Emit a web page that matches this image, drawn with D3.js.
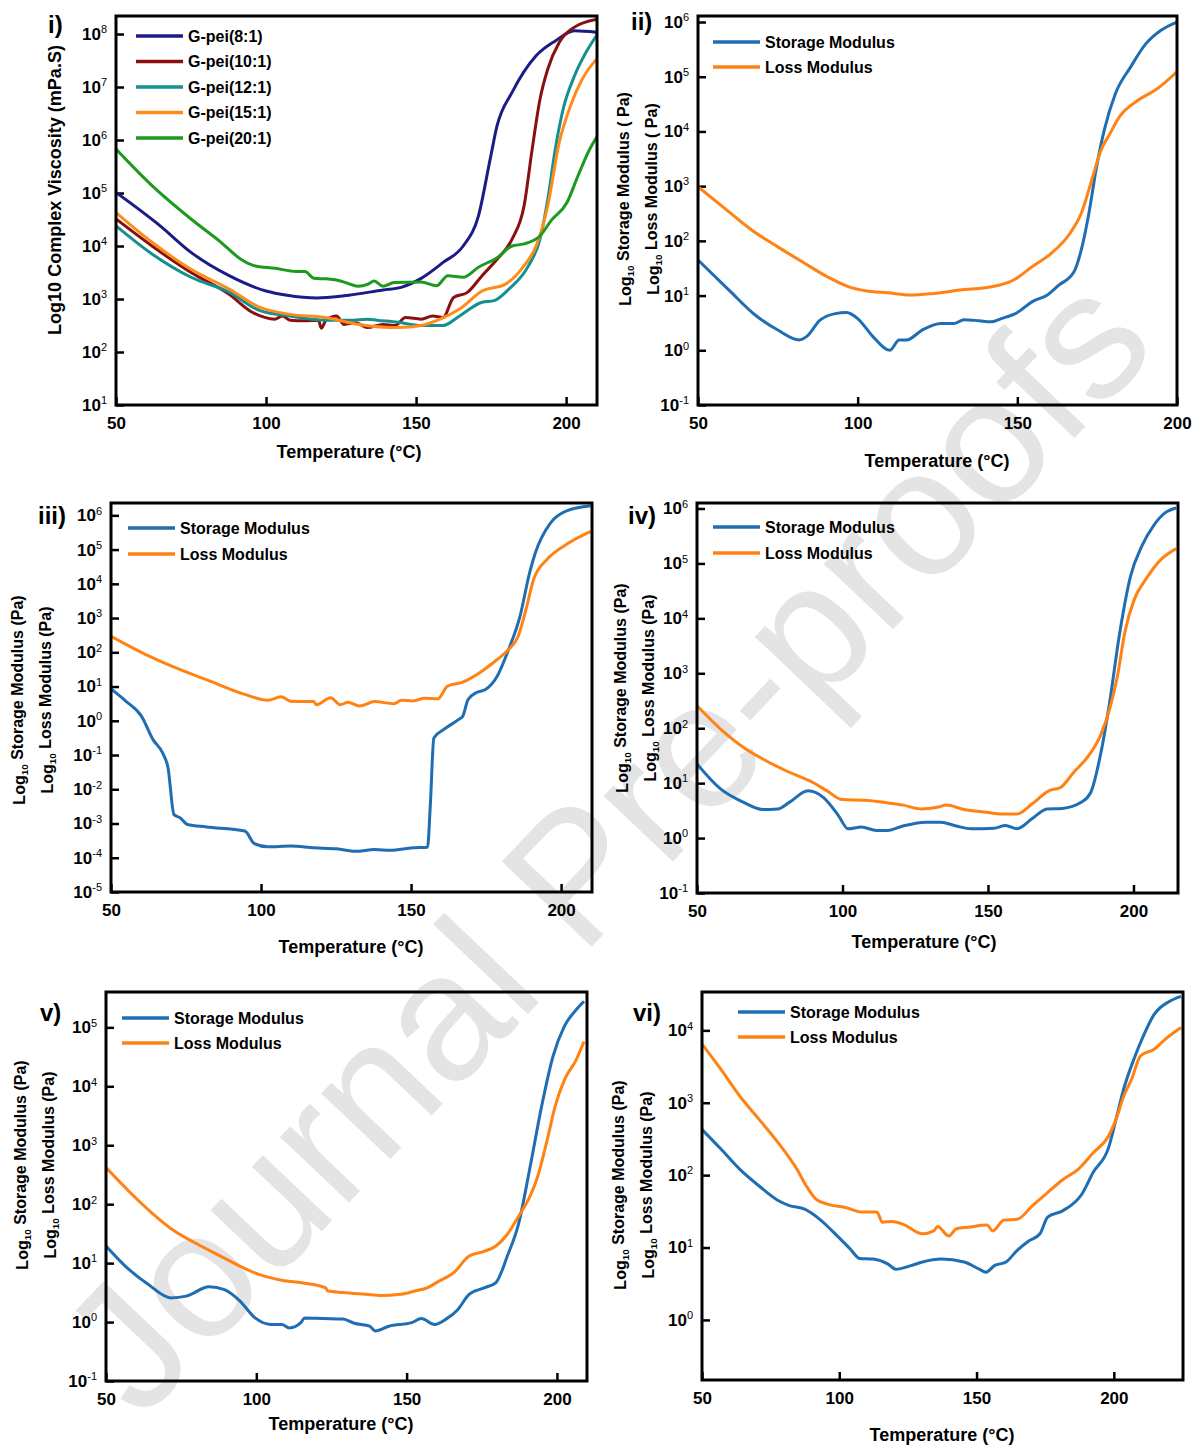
<!DOCTYPE html>
<html>
<head>
<meta charset="utf-8">
<script src="https://cdn.jsdelivr.net/npm/d3@7"></script>
<style>
  body { margin: 0; background: #fff; }
  svg { display: block; font-family: "Liberation Sans", Arial, sans-serif; }
</style>
</head>
<body>
<svg id="fig" width="1195" height="1445"></svg>
<script>
// values are [temperature °C, log10(value)]

// panel i - complex viscosity (mPa.S)
const visc8to1 = [[50,5.01],[64.7,4.38],[75,3.88],[87.7,3.44],[100,3.15],[107,3.07],[117,3.02],[126,3.06],[139,3.17],[145,3.22],[151.7,3.39],[159,3.69],[165.7,4.0],[170.8,4.57],[174.7,5.64],[177,6.27],[182,6.9],[190,7.59],[196.4,7.87],[202.8,8.06],[210.5,8.03]];
const visc10to1 = [[50,4.51],[62,4.0],[75,3.5],[87.7,3.09],[95.4,2.75],[103,2.62],[105.5,2.68],[108,2.6],[113,2.59],[117.5,2.6],[118.4,2.45],[120,2.6],[123.5,2.68],[126,2.52],[130,2.55],[133.8,2.46],[139,2.52],[143,2.5],[146.5,2.65],[151.7,2.62],[155.5,2.68],[159,2.65],[162.5,3.03],[167,3.12],[172,3.44],[177,3.75],[182,4.13],[186,4.76],[188.7,5.83],[191.3,6.77],[193.9,7.34],[197.7,7.84],[202.8,8.13],[210.5,8.28]];
const visc12to1 = [[50,4.38],[62,3.85],[75,3.41],[87.7,3.13],[98,2.78],[108,2.68],[119.7,2.6],[128,2.6],[133.8,2.62],[137,2.6],[144,2.56],[151.7,2.5],[159,2.5],[164.5,2.68],[172,2.94],[176,2.97],[181,3.19],[187.5,3.63],[191.3,4.13],[193.9,4.88],[196.4,5.83],[199,6.58],[202.8,7.21],[206.6,7.65],[210.5,8.0]];
const visc15to1 = [[50,4.63],[62,4.07],[75,3.56],[87.7,3.19],[98,2.84],[108,2.71],[119.7,2.65],[131,2.52],[144,2.46],[151.7,2.5],[158,2.62],[164.5,2.81],[172,3.15],[179.8,3.28],[186,3.63],[190,4.0],[193.9,4.76],[197.7,5.95],[201.5,6.65],[205.4,7.15],[210.5,7.55]];
const visc20to1 = [[50,5.83],[62,5.14],[75,4.51],[85,4.07],[91.6,3.75],[96,3.63],[103,3.58],[110,3.52],[113,3.52],[116,3.39],[120,3.38],[123.5,3.36],[127,3.3],[130.6,3.24],[134,3.28],[136,3.34],[139,3.24],[142.7,3.31],[151.7,3.32],[156.8,3.25],[160.6,3.44],[165.7,3.41],[170.8,3.6],[177,3.78],[182,4.0],[186,4.04],[191.3,4.19],[195,4.48],[200.3,4.82],[204,5.33],[207.9,5.83],[210.5,6.08]];
const viscLabels = ["G-pei(8:1)", "G-pei(10:1)", "G-pei(12:1)", "G-pei(15:1)", "G-pei(20:1)"];

// panel ii
const storageII = [[50,1.65],[59.7,1.1],[68,0.64],[75,0.37],[81.7,0.19],[84,0.25],[88.2,0.55],[93,0.67],[96.5,0.69],[100,0.58],[104.8,0.25],[110.1,0.0],[113,0.19],[115.4,0.19],[120.2,0.37],[126,0.49],[130.3,0.49],[133.3,0.56],[138,0.54],[141.6,0.52],[145,0.58],[150,0.69],[154.7,0.89],[159.4,1.01],[163,1.19],[167.7,1.43],[170,1.83],[172.4,2.5],[174.8,3.35],[177.2,4.02],[180.7,4.69],[185.5,5.18],[190.2,5.6],[195,5.85],[200,6.0]];
const lossII = [[50,2.99],[59.7,2.53],[66.8,2.2],[75,1.89],[83.4,1.59],[90.6,1.34],[97.7,1.15],[102.4,1.09],[109.5,1.05],[116.7,1.01],[123.8,1.04],[132,1.1],[142.8,1.17],[148.7,1.28],[154.7,1.53],[160.6,1.77],[166.5,2.14],[170,2.5],[173.6,3.17],[176,3.63],[179,3.96],[182,4.27],[187.8,4.57],[193.8,4.78],[200,5.09]];

// panel iii
const storageIII = [[50,0.93],[55,0.57],[60.2,0.13],[64,-0.55],[67.2,-0.94],[69,-1.37],[71,-2.74],[73,-2.83],[75.5,-3.03],[81.8,-3.1],[94.6,-3.22],[97.8,-3.59],[102.2,-3.68],[109.9,-3.66],[117.5,-3.71],[125.2,-3.74],[131.5,-3.81],[137.9,-3.76],[143,-3.78],[150.6,-3.71],[155.5,-3.69],[156.4,-2.49],[157.6,-0.5],[160.8,-0.26],[165.9,0.04],[167.2,0.13],[169,0.62],[171.7,0.82],[174.8,0.91],[178.7,1.3],[182.5,2.08],[186.3,3.05],[189.5,4.32],[191.4,4.9],[196.5,5.78],[201.6,6.12],[209.9,6.28]];
const lossIII = [[50,2.47],[62.7,1.89],[70.4,1.59],[81.8,1.2],[94.6,0.77],[102.2,0.6],[106.7,0.7],[109.9,0.57],[117.5,0.56],[118.5,0.47],[123.2,0.67],[126.4,0.47],[129,0.54],[132.8,0.43],[137.9,0.56],[144.3,0.5],[146.8,0.6],[150.6,0.58],[154.5,0.66],[158.9,0.64],[162.1,1.01],[167.2,1.13],[173.6,1.45],[178.7,1.79],[182.5,2.08],[185.7,2.47],[188.3,3.25],[190.8,4.12],[195.3,4.71],[201.6,5.14],[209.9,5.53]];

// panel iv
const storageIV = [[50,1.35],[58.2,0.89],[66,0.65],[72.6,0.52],[77.8,0.53],[81.7,0.65],[88.2,0.86],[93.4,0.74],[98.6,0.41],[101.9,0.17],[106.5,0.2],[111.7,0.14],[115.6,0.14],[120.8,0.22],[128.6,0.29],[133.8,0.29],[139,0.22],[144.3,0.17],[152.1,0.18],[156,0.23],[160,0.17],[165.1,0.35],[170.3,0.53],[175.6,0.54],[182,0.65],[185.3,0.83],[188.6,1.5],[191.8,2.47],[195.1,3.68],[199,4.77],[202.9,5.32],[206.8,5.68],[210.8,5.92],[214.7,6.01]];
const lossIV = [[50,2.41],[58.2,1.98],[66,1.65],[72.6,1.44],[80.4,1.23],[89.5,1.02],[94.7,0.86],[99.9,0.7],[107.8,0.69],[115.6,0.64],[120.8,0.6],[127.3,0.53],[132.5,0.56],[135.8,0.6],[141.7,0.52],[149.5,0.47],[154.7,0.44],[160,0.44],[165.1,0.62],[170.9,0.86],[174.9,0.92],[179.5,1.2],[184.6,1.5],[188.6,1.86],[191.8,2.35],[194.5,2.95],[197,3.74],[200.3,4.35],[204.2,4.71],[209.4,5.07],[214.7,5.27]];

// panel v
const storageV = [[50,1.29],[56.4,0.95],[64,0.64],[71.6,0.41],[76.7,0.44],[84.3,0.6],[89.4,0.55],[94.5,0.36],[99.6,0.07],[104.7,-0.04],[108.5,-0.04],[111,-0.1],[114.8,-0.01],[116.1,0.07],[122.5,0.06],[128.8,0.05],[132.6,-0.02],[137.7,-0.07],[139.6,-0.15],[144.1,-0.07],[151.7,-0.01],[154.9,0.06],[159.3,-0.04],[163.1,0.05],[167,0.21],[170.8,0.47],[175.8,0.58],[179.7,0.67],[183.5,1.12],[187.3,1.68],[191.1,2.64],[194.9,3.66],[198.7,4.51],[202.5,5.02],[206.4,5.3],[209,5.44]];
const lossV = [[50,2.62],[57.6,2.22],[65.3,1.85],[72.9,1.54],[80.5,1.32],[88.1,1.12],[94.5,0.95],[100.8,0.81],[108.5,0.71],[116.1,0.66],[123.1,0.58],[123.7,0.53],[128.8,0.5],[136.4,0.47],[141.5,0.45],[147.9,0.47],[153,0.53],[156.8,0.58],[160.6,0.69],[165.7,0.84],[170.8,1.12],[175.8,1.2],[179.7,1.29],[183.5,1.49],[187.3,1.8],[191.1,2.14],[193.6,2.47],[196.8,3.1],[199.4,3.66],[202.5,4.11],[206.4,4.45],[209,4.76]];

// panel vi
const storageVI = [[50,2.63],[56.9,2.36],[63.8,2.08],[70.8,1.85],[77.7,1.65],[81.8,1.58],[87.4,1.53],[92.9,1.39],[99.8,1.14],[104,0.98],[107.4,0.85],[112.3,0.84],[117.8,0.77],[120.6,0.7],[126.1,0.75],[130.3,0.8],[137.2,0.84],[145.5,0.8],[151,0.7],[153.5,0.66],[156.5,0.75],[160.7,0.8],[164.8,0.96],[169,1.09],[173.1,1.19],[175.9,1.42],[181.5,1.51],[188.4,1.74],[192.5,2.04],[198.1,2.38],[200.8,2.77],[203.6,3.19],[207.8,3.65],[210.5,3.9],[214.7,4.22],[220.2,4.4],[224.5,4.47]];
const lossVI = [[50,3.81],[56.9,3.46],[63.8,3.09],[70.8,2.77],[77.7,2.45],[84.6,2.08],[88,1.85],[91.5,1.67],[95.7,1.6],[102.6,1.55],[108.1,1.49],[113.7,1.49],[115.7,1.35],[119.2,1.36],[123.3,1.32],[130.3,1.19],[134.4,1.23],[135.8,1.29],[139.9,1.16],[142.7,1.26],[146.9,1.28],[153.8,1.31],[155.9,1.23],[160,1.38],[164.8,1.39],[170.4,1.58],[175.9,1.76],[181.5,1.94],[187,2.08],[192.5,2.31],[198.1,2.54],[200.8,2.77],[203.6,3.09],[206.4,3.32],[209.8,3.65],[214.7,3.74],[218.8,3.88],[224.5,4.04]];

const modulusLabels = ["Storage Modulus", "Loss Modulus"];
const xTickValues = [50, 100, 150, 200];

const viscColors = ["#1c1c86", "#8a1010", "#15908f", "#ff8c1a", "#1b9a1e"];
const storageColor = "#1f6db2";
const lossColor = "#ff8213";

const svg = d3.select("#fig");

// watermark behind everything
svg.append("text")
  .attr("transform", "translate(605,842) rotate(-46.5)")
  .attr("text-anchor", "middle")
  .attr("dominant-baseline", "central")
  .attr("font-size", 180)
  .attr("fill", "#e4e4e4")
  .text("Journal Pre-proofs");

let clipId = 0;

function drawPanel(p) {
  const x = d3.scaleLinear(p.xDomain, [p.left, p.right]);
  const y = d3.scaleLog(p.yDomain, [p.bottom, p.top]);
  const g = svg.append("g");

  const xAxis = d3.axisBottom(x).tickValues(xTickValues).tickSizeInner(-8).tickSizeOuter(0).tickPadding(12);
  const yAxis = d3.axisLeft(y).tickValues(p.yTicks).tickSizeInner(-8).tickSizeOuter(0).tickPadding(9);

  const gx = g.append("g").attr("transform", `translate(0,${p.bottom})`).call(xAxis);
  const gy = g.append("g").attr("transform", `translate(${p.left},0)`).call(yAxis);

  [gx, gy].forEach((ax) => {
    ax.select(".domain").remove();
    ax.selectAll(".tick line").attr("stroke", "#000").attr("stroke-width", 2.5);
    ax.selectAll(".tick text")
      .attr("fill", "#000")
      .attr("font-size", 17)
      .attr("font-weight", "bold");
  });

  // 10^n labels
  gy.selectAll(".tick text").each(function (d) {
    const t = d3.select(this);
    const e = Math.round(Math.log10(d));
    t.text(null);
    t.append("tspan").text("10");
    t.append("tspan")
      .attr("dy", "-0.6em")
      .attr("font-size", 11)
      .attr("font-weight", "normal")
      .text(e);
  });

  const id = "clip" + clipId++;
  g.append("clipPath").attr("id", id)
    .append("rect")
    .attr("x", p.left).attr("y", p.top)
    .attr("width", p.right - p.left).attr("height", p.bottom - p.top);

  const line = d3.line()
    .x((d) => x(d[0]))
    .y((d) => y(Math.pow(10, d[1])))
    .curve(d3.curveMonotoneX);

  p.series.forEach((s) => {
    g.append("path")
      .datum(s.data)
      .attr("clip-path", `url(#${id})`)
      .attr("fill", "none")
      .attr("stroke", s.color)
      .attr("stroke-width", 3)
      .attr("stroke-linejoin", "round")
      .attr("d", line);
  });

  // frame
  g.append("rect")
    .attr("x", p.left).attr("y", p.top)
    .attr("width", p.right - p.left).attr("height", p.bottom - p.top)
    .attr("fill", "none")
    .attr("stroke", "#000")
    .attr("stroke-width", 3);

  // legend
  p.series.forEach((s, i) => {
    const ly = p.legend[1] + i * p.legendStep;
    g.append("line")
      .attr("x1", p.legend[0]).attr("x2", p.legend[0] + 47)
      .attr("y1", ly).attr("y2", ly)
      .attr("stroke", s.color).attr("stroke-width", 3.5);
    g.append("text")
      .attr("x", p.legend[0] + 52).attr("y", ly)
      .attr("dy", "0.35em")
      .attr("font-size", 16).attr("font-weight", "bold")
      .text(s.label);
  });

  // panel tag
  g.append("text")
    .attr("x", p.tag[0]).attr("y", p.tag[1])
    .attr("dy", "0.35em")
    .attr("font-size", 24).attr("font-weight", "bold")
    .text(p.name);

  // x title
  g.append("text")
    .attr("x", p.xTitle[0]).attr("y", p.xTitle[1])
    .attr("dy", "0.35em")
    .attr("text-anchor", "middle")
    .attr("font-size", 18).attr("font-weight", "bold")
    .text("Temperature (°C)");

  // y titles
  p.yTitles.forEach((t) => {
    const yt = g.append("text")
      .attr("transform", `translate(${t.x},${p.yTitleCenter}) rotate(-90)`)
      .attr("text-anchor", "middle")
      .attr("dy", "0.35em")
      .attr("font-size", t.size).attr("font-weight", "bold");
    if (t.sub) {
      yt.append("tspan").text("Log");
      yt.append("tspan").attr("font-size", t.size * 0.62).attr("dy", "0.3em").text("10");
      yt.append("tspan").attr("dy", "-0.3em").text(" " + t.text);
    } else {
      yt.text(t.text);
    }
  });
}

function modulusSeries(storage, loss) {
  return [
    { label: modulusLabels[0], color: storageColor, data: storage },
    { label: modulusLabels[1], color: lossColor, data: loss },
  ];
}

function modTitles(x1, x2, unit) {
  return [
    { x: x1, size: 16, sub: true, text: "Storage Modulus " + unit },
    { x: x2, size: 16, sub: true, text: "Loss Modulus " + unit },
  ];
}

const decades = (a, b) => d3.range(a, b + 1).map((e) => Math.pow(10, e));

drawPanel({
  name: "i)", tag: [48, 25],
  left: 116, right: 597, top: 16, bottom: 405,
  xDomain: [50, 210.3], yDomain: [10, Math.pow(10, 8.34)], yTicks: decades(1, 8),
  series: [visc8to1, visc10to1, visc12to1, visc15to1, visc20to1].map((d, i) => ({ label: viscLabels[i], color: viscColors[i], data: d })),
  legend: [136, 36], legendStep: 25.5,
  xTitle: [349, 452],
  yTitles: [{ x: 55, size: 18, sub: false, text: "Log10 Complex Viscosity (mPa.S)" }],
  yTitleCenter: 190,
});

drawPanel({
  name: "ii)", tag: [631, 22],
  left: 698, right: 1177, top: 16, bottom: 405,
  xDomain: [50, 200], yDomain: [0.1, Math.pow(10, 6.11)], yTicks: decades(-1, 6),
  series: modulusSeries(storageII, lossII),
  legend: [713, 42], legendStep: 25,
  xTitle: [937, 461],
  yTitles: modTitles(625, 653, "( Pa)"),
  yTitleCenter: 199,
});

drawPanel({
  name: "iii)", tag: [38, 516],
  left: 111, right: 592, top: 503, bottom: 892,
  xDomain: [50, 210.3], yDomain: [1e-5, Math.pow(10, 6.36)], yTicks: decades(-5, 6),
  series: modulusSeries(storageIII, lossIII),
  legend: [128, 528], legendStep: 26,
  xTitle: [351, 947],
  yTitles: modTitles(19, 47, "(Pa)"),
  yTitleCenter: 700,
});

drawPanel({
  name: "iv)", tag: [628, 516],
  left: 697, right: 1178, top: 503, bottom: 893,
  xDomain: [50, 215.3], yDomain: [0.1, Math.pow(10, 6.1)], yTicks: decades(-1, 6),
  series: modulusSeries(storageIV, lossIV),
  legend: [713, 527], legendStep: 26,
  xTitle: [924, 942],
  yTitles: modTitles(622, 650, "(Pa)"),
  yTitleCenter: 688,
});

drawPanel({
  name: "v)", tag: [40, 1013],
  left: 106, right: 587, top: 992, bottom: 1381,
  xDomain: [50, 210], yDomain: [0.1, Math.pow(10, 5.6)], yTicks: decades(-1, 5),
  series: modulusSeries(storageV, lossV),
  legend: [122, 1018], legendStep: 25,
  xTitle: [341, 1424],
  yTitles: modTitles(22, 50, "(Pa)"),
  yTitleCenter: 1165,
});

drawPanel({
  name: "vi)", tag: [633, 1013],
  left: 702, right: 1183, top: 992, bottom: 1380,
  xDomain: [50, 225.2], yDomain: [Math.pow(10, -0.83), Math.pow(10, 4.53)], yTicks: decades(0, 4),
  series: modulusSeries(storageVI, lossVI),
  legend: [738, 1012], legendStep: 25,
  xTitle: [942, 1435],
  yTitles: modTitles(620, 648, "(Pa)"),
  yTitleCenter: 1185,
});
</script>
</body>
</html>
